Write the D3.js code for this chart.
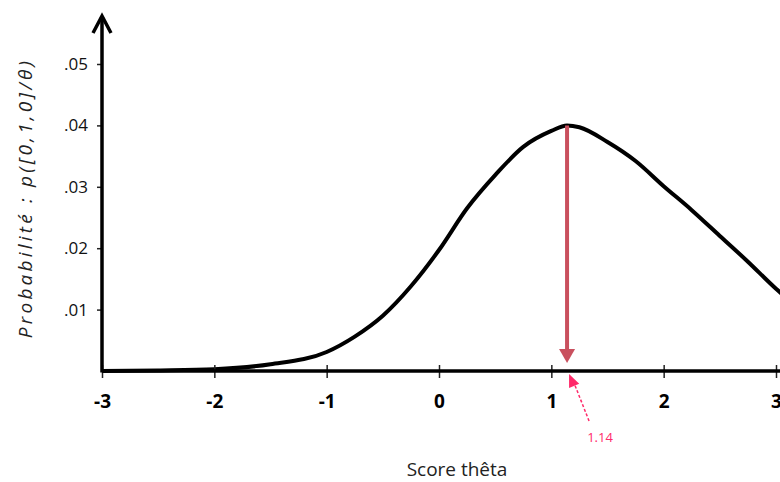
<!DOCTYPE html>
<html>
<head>
<meta charset="utf-8">
<script src="https://cdn.jsdelivr.net/npm/d3@7"></script>
<style>
  html, body { margin: 0; padding: 0; background: #fff; }
  svg { display: block; }
</style>
</head>
<body>
<svg id="chart" width="780" height="482"></svg>
<script>
// Likelihood of the response pattern [0,1,0] as a function of theta
const theta = [-3, -2.5, -2, -1.5, -1, -0.75, -0.5, -0.25, 0, 0.25, 0.5, 0.75, 1, 1.14, 1.25, 1.5, 1.75, 2, 2.25, 2.5, 2.75, 3, 3.1];
const prob  = [0, 0.0001, 0.0003, 0.0011, 0.0031, 0.0056, 0.009, 0.0138, 0.0197, 0.0265, 0.0319, 0.0365, 0.0391, 0.0400, 0.0397, 0.0373, 0.0342, 0.0301, 0.0262, 0.0220, 0.0178, 0.0134, 0.0118];
const xTicks = [-3, -2, -1, 0, 1, 2, 3];
const yTicks = [0.01, 0.02, 0.03, 0.04, 0.05];
const thetaMax = 1.14;
const thetaMaxLabel = "1.14";

const svg = d3.select("#chart");
const x0 = 102, x1 = 776, yBase = 371, yTop = 64;

const x = d3.scaleLinear().domain([-3, 3]).range([x0, x1]);
const y = d3.scaleLinear().domain([0, 0.05]).range([yBase, yTop]);

// curve
const line = d3.line()
  .x((d, i) => x(theta[i]))
  .y(d => y(d))
  .curve(d3.curveMonotoneX);

svg.append("path")
  .datum(prob)
  .attr("d", line)
  .attr("fill", "none")
  .attr("stroke", "#000")
  .attr("stroke-width", 4)
  .attr("stroke-linejoin", "round");

// x axis
const xAxis = svg.append("g")
  .attr("transform", `translate(0,${yBase})`)
  .call(d3.axisBottom(x).tickValues(xTicks).tickSize(7).tickSizeOuter(0).tickPadding(17)
    .tickFormat(d => String(d)));
xAxis.select(".domain").remove();
xAxis.selectAll(".tick line").attr("stroke", "#222").attr("stroke-width", 1.5).attr("y1", -6);
xAxis.selectAll(".tick text")
  .attr("font-family", "'Open Sans', 'DejaVu Sans', sans-serif")
  .attr("font-size", 19).attr("font-weight", "bold").attr("fill", "#000");
svg.append("line")
  .attr("x1", x0).attr("x2", 780).attr("y1", yBase).attr("y2", yBase)
  .attr("stroke", "#000").attr("stroke-width", 3.5);

// y axis
const yAxis = svg.append("g")
  .attr("transform", `translate(${x0},0)`)
  .call(d3.axisLeft(y).tickValues(yTicks).tickSize(5).tickPadding(9)
    .tickFormat(d => d3.format(".2f")(d).replace(/^0/, "")));
yAxis.select(".domain").remove();
yAxis.selectAll(".tick line").attr("stroke", "#222").attr("stroke-width", 1.5);
yAxis.selectAll(".tick text")
  .attr("font-family", "'Open Sans', 'DejaVu Sans', sans-serif")
  .attr("font-size", 17).attr("fill", "#111");
svg.append("line")
  .attr("x1", x0).attr("x2", x0).attr("y1", yBase + 1.5).attr("y2", 16)
  .attr("stroke", "#000").attr("stroke-width", 3.5);
svg.append("path")
  .attr("d", `M${x0 - 9},${33} L${x0},${16} L${x0 + 9},${33}`)
  .attr("fill", "none").attr("stroke", "#000").attr("stroke-width", 3.5)
  .attr("stroke-linejoin", "miter");

// maximum marker
const red = "#c9505e";
const xm = x(thetaMax);
svg.append("line")
  .attr("x1", xm).attr("x2", xm)
  .attr("y1", y(prob[theta.indexOf(thetaMax)])).attr("y2", yBase - 18)
  .attr("stroke", red).attr("stroke-width", 4);
svg.append("path")
  .attr("d", `M${xm - 8},${yBase - 22} L${xm + 8},${yBase - 22} L${xm},${yBase - 8} Z`)
  .attr("fill", red);

// pointer to the estimate
const pink = "#ff2a6a";
svg.append("line")
  .attr("x1", xm + 22).attr("x2", xm + 7)
  .attr("y1", yBase + 50).attr("y2", yBase + 12)
  .attr("stroke", pink).attr("stroke-width", 1.5).attr("stroke-dasharray", "3,2");
svg.append("path")
  .attr("d", (() => {
    const tx = xm + 2, ty = yBase + 3;
    const ang = Math.atan2(50 - 3, 22 - 2);
    const L = 13, w = 5.5;
    const bx = tx + L * Math.cos(ang), by = ty + L * Math.sin(ang);
    const px = -Math.sin(ang) * w, py = Math.cos(ang) * w;
    return `M${tx},${ty} L${bx + px},${by + py} L${bx - px},${by - py} Z`;
  })())
  .attr("fill", pink);
svg.append("text")
  .attr("x", xm + 33).attr("y", yBase + 71)
  .attr("text-anchor", "middle")
  .attr("font-family", "'Open Sans', 'DejaVu Sans', sans-serif")
  .attr("font-size", 13).attr("fill", pink)
  .text(thetaMaxLabel);

// axis titles
svg.append("text")
  .attr("x", 457).attr("y", 476)
  .attr("text-anchor", "middle")
  .attr("font-family", "'Open Sans', 'DejaVu Sans', sans-serif")
  .attr("font-size", 19).attr("fill", "#222")
  .text("Score thêta");

svg.append("text")
  .attr("transform", "translate(32,198) rotate(-90)")
  .attr("text-anchor", "middle")
  .attr("font-family", "'Open Sans', 'DejaVu Sans', sans-serif")
  .attr("font-size", 19).attr("font-style", "italic").attr("fill", "#222")
  .attr("letter-spacing", 3.2)
  .text("Probabilité : p([0,1,0]/θ)");
</script>
</body>
</html>
